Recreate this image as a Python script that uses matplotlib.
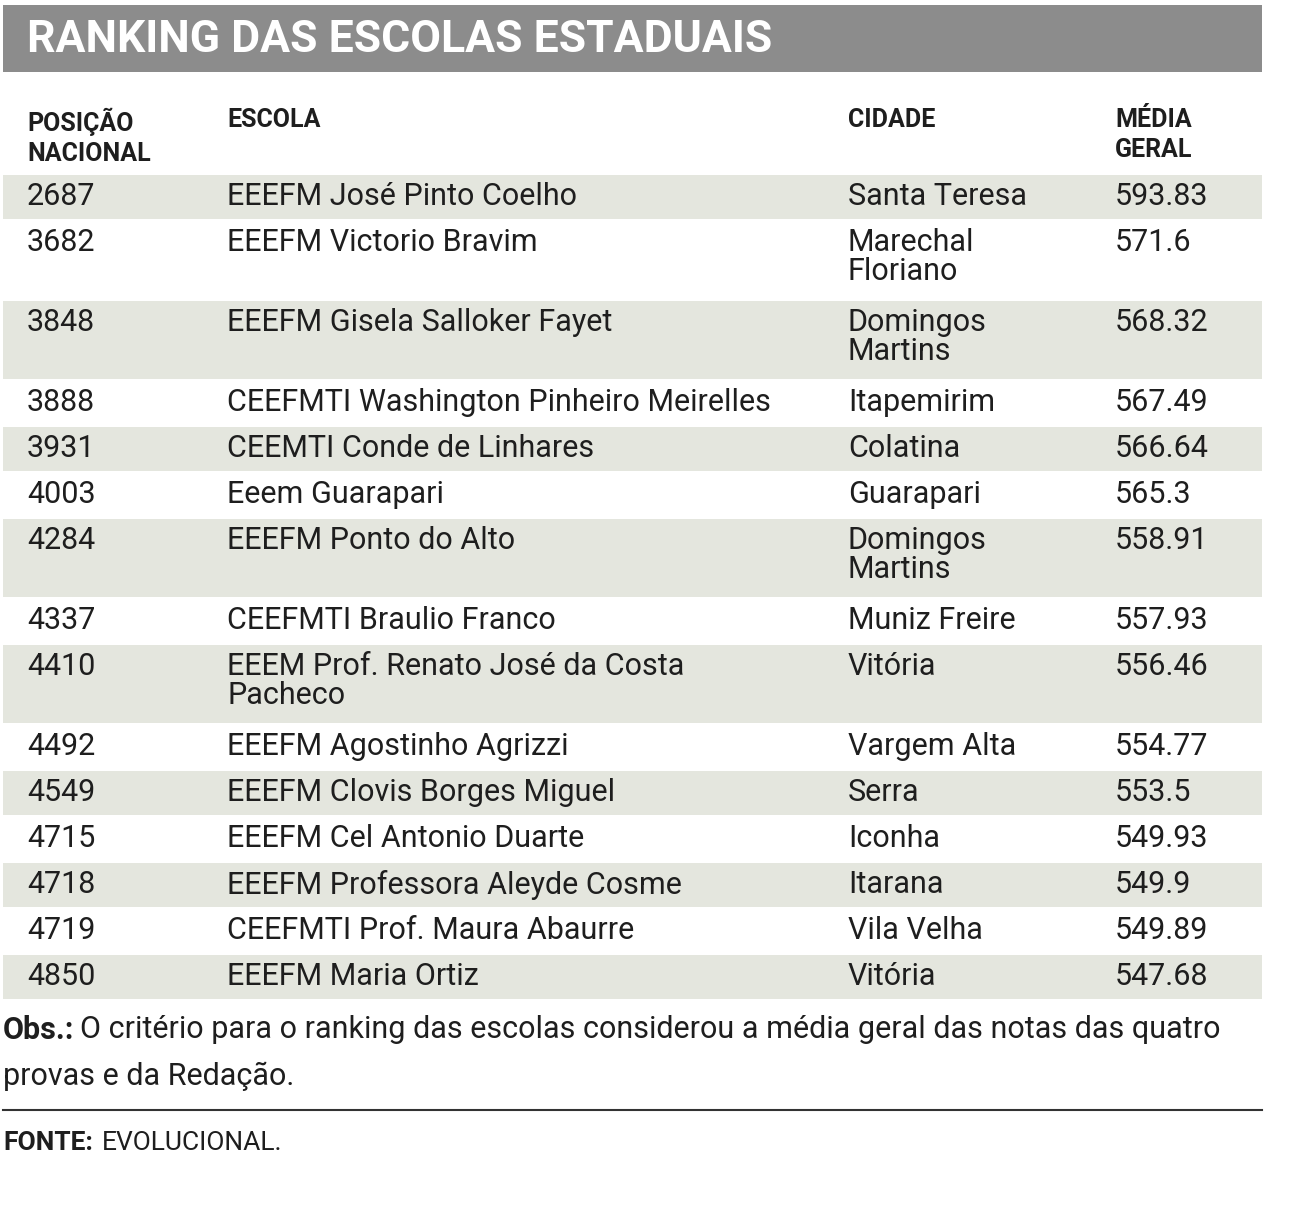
import matplotlib
matplotlib.use("Agg")
import matplotlib.pyplot as plt
from matplotlib.patches import Rectangle

title = "RANKING DAS ESCOLAS ESTADUAIS"
headers = ["POSIÇÃO\nNACIONAL", "ESCOLA", "CIDADE", "MÉDIA\nGERAL"]
posicao = ["2687","3682","3848","3888","3931","4003","4284","4337","4410","4492","4549","4715","4718","4719","4850"]
escola = ["EEEFM José Pinto Coelho","EEEFM Victorio Bravim","EEEFM Gisela Salloker Fayet",
          "CEEFMTI Washington Pinheiro Meirelles","CEEMTI Conde de Linhares","Eeem Guarapari",
          "EEEFM Ponto do Alto","CEEFMTI Braulio Franco","EEEM Prof. Renato José da Costa\nPacheco",
          "EEEFM Agostinho Agrizzi","EEEFM Clovis Borges Miguel","EEEFM Cel Antonio Duarte",
          "EEEFM Professora Aleyde Cosme","CEEFMTI Prof. Maura Abaurre","EEEFM Maria Ortiz"]
cidade = ["Santa Teresa","Marechal\nFloriano","Domingos\nMartins","Itapemirim","Colatina","Guarapari",
          "Domingos\nMartins","Muniz Freire","Vitória","Vargem Alta","Serra","Iconha","Itarana",
          "Vila Velha","Vitória"]
media = ["593.83","571.6","568.32","567.49","566.64","565.3","558.91","557.93","556.46",
         "554.77","553.5","549.93","549.9","549.89","547.68"]

W, H = 1289, 1209
fig = plt.figure(figsize=(W/100, H/100), dpi=100)
ax = fig.add_axes([0, 0, 1, 1])
ax.set_xlim(0, W); ax.set_ylim(H, 0); ax.axis("off")
FONT = "Roboto"
TXT = "#1e1e1e"

ax.add_patch(Rectangle((3, 5), 1259, 67, color="#8c8c8c", lw=0))
ax.text(27, 40, title, color="white", fontsize=32, fontweight="bold", family=FONT, va="center")

cols = [27, 227, 848, 1115]
for x, h in zip(cols, headers):
    ax.text(x, 108, h, fontsize=18, fontweight="bold", family=FONT, color=TXT, va="top", linespacing=1.3)

y = 175
for i in range(len(posicao)):
    lines = max(escola[i].count("\n"), cidade[i].count("\n")) + 1
    h = 44 if lines == 1 else 78
    if i % 2 == 0:
        ax.add_patch(Rectangle((3, y), 1259, h, color="#e4e6de", lw=0))
    for x, t in zip(cols, [posicao[i], escola[i], cidade[i], media[i]]):
        ax.text(x, y + 7, t, fontsize=22, family=FONT, color=TXT, va="top", linespacing=1.0)
    y += h + 2

ax.text(3, 1030, "Obs.:", fontsize=22, fontweight="bold", family=FONT, color=TXT, va="center")
ax.text(80, 1030, "O critério para o ranking das escolas considerou a média geral das notas das quatro",
        fontsize=22, family=FONT, color=TXT, va="center")
ax.text(3, 1076, "provas e da Redação.", fontsize=22, family=FONT, color=TXT, va="center")
ax.plot([3, 1262], [1110, 1110], color="#333333", lw=1.5)
ax.text(3, 1143, "FONTE:", fontsize=19, fontweight="bold", family=FONT, color=TXT, va="center")
ax.text(102, 1143, "EVOLUCIONAL.", fontsize=19, family=FONT, color=TXT, va="center")

fig.savefig("out.png", dpi=100, facecolor="white")
